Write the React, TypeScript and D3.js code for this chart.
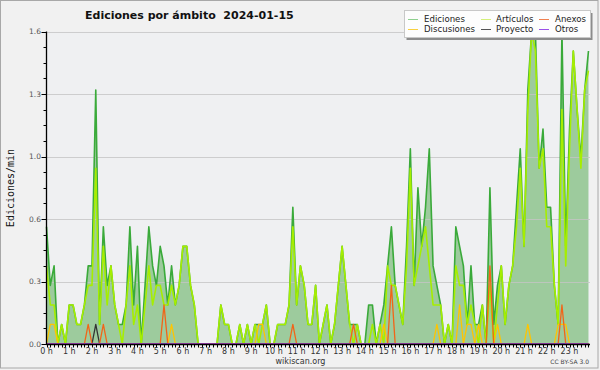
import React, { useRef, useEffect } from 'react';
import * as d3 from 'd3';

// edits per minute, one value per 10-minute slot (0 h .. 23:50), 24 values per row = 4 hours
const ediciones = [
  0.6, 0.3, 0.4, 0, 0.1, 0, 0.2, 0.2, 0.1, 0.1, 0.2, 0.4, 0.4, 1.3, 0.1, 0.6, 0.3, 0.4, 0.2, 0.1, 0.1, 0.2, 0.6, 0.2,
  0.5, 0, 0.3, 0.6, 0.4, 0.3, 0.5, 0.4, 0.2, 0.4, 0.2, 0.3, 0.5, 0.5, 0.3, 0.2, 0, 0, 0, 0, 0, 0, 0.2, 0.1,
  0.1, 0, 0, 0.1, 0, 0.1, 0, 0.1, 0.1, 0.1, 0.2, 0, 0, 0.1, 0.1, 0.1, 0.2, 0.7, 0.2, 0.4, 0.3, 0.1, 0.1, 0.3,
  0, 0.1, 0.2, 0, 0.1, 0.3, 0.5, 0.3, 0.1, 0.1, 0.1, 0, 0, 0.2, 0.2, 0, 0.1, 0.2, 0.4, 0.6, 0.3, 0.2, 0.1, 0.5,
  1.0, 0.3, 0.8, 0.5, 0.7, 1.0, 0.4, 0.3, 0.2, 0, 0.1, 0, 0.6, 0.5, 0.4, 0.1, 0.4, 0.1, 0.1, 0.2, 0, 0.8, 0.1, 0.3,
  0.4, 0.1, 0.3, 0.4, 0.7, 1.0, 0.5, 1.3, 1.6, 1.6, 0.9, 1.1, 0.7, 0.7, 0.3, 0.1, 1.6, 0.5, 1.1, 1.5, 1.2, 0.95, 1.3, 1.5,
];

const articulos = [
  0.4, 0.2, 0.2, 0, 0.1, 0, 0.2, 0.2, 0.1, 0.1, 0.2, 0.3, 0.3, 0.9, 0.1, 0.5, 0.2, 0.4, 0.2, 0.1, 0, 0.2, 0.4, 0.1,
  0.2, 0, 0.2, 0.4, 0.2, 0.3, 0.3, 0.2, 0.2, 0.3, 0.2, 0.3, 0.5, 0.5, 0.3, 0.2, 0, 0, 0, 0, 0, 0, 0.2, 0.1,
  0.1, 0, 0, 0.1, 0, 0.1, 0, 0.1, 0, 0.1, 0.2, 0, 0, 0.1, 0.1, 0.1, 0.2, 0.6, 0.2, 0.4, 0.3, 0.1, 0.1, 0.3,
  0, 0.1, 0.2, 0, 0.1, 0.3, 0.5, 0.3, 0.1, 0, 0.1, 0, 0, 0, 0.1, 0, 0.1, 0, 0.4, 0.3, 0.3, 0.2, 0.1, 0.4,
  0.9, 0.3, 0.4, 0.5, 0.6, 0.4, 0.2, 0.2, 0.2, 0, 0.1, 0, 0.4, 0.3, 0.3, 0.1, 0.2, 0.1, 0, 0.2, 0, 0.3, 0, 0.2,
  0.4, 0.1, 0.3, 0.4, 0.6, 0.9, 0.5, 1.2, 1.6, 1.5, 0.9, 1.0, 0.6, 0.6, 0.3, 0.1, 1.2, 0.4, 1.0, 1.5, 1.2, 0.9, 1.3, 1.4,
];

const discusiones = [
  0, 0.1, 0.1, 0, 0, 0, 0, 0, 0, 0, 0, 0, 0, 0, 0, 0, 0, 0, 0, 0, 0, 0, 0, 0,
  0, 0, 0, 0, 0, 0, 0, 0, 0, 0.1, 0, 0, 0, 0, 0, 0, 0, 0, 0, 0, 0, 0, 0, 0,
  0, 0, 0, 0, 0, 0, 0, 0, 0.1, 0.1, 0, 0, 0, 0, 0, 0, 0, 0, 0, 0, 0, 0, 0, 0,
  0, 0, 0, 0, 0, 0, 0, 0, 0, 0, 0, 0, 0, 0, 0, 0, 0, 0.1, 0, 0, 0, 0, 0, 0,
  0, 0, 0, 0, 0, 0, 0, 0.1, 0, 0, 0, 0, 0, 0.2, 0, 0.1, 0.1, 0, 0.1, 0, 0, 0, 0, 0.1,
  0, 0, 0, 0, 0, 0, 0, 0.1, 0, 0, 0, 0, 0, 0, 0, 0.1, 0.1, 0.1, 0, 0, 0, 0, 0, 0,
];

const anexos = [
  0, 0, 0, 0, 0, 0, 0, 0, 0, 0, 0, 0.1, 0, 0, 0, 0.1, 0, 0, 0, 0, 0, 0, 0, 0,
  0, 0, 0, 0, 0, 0, 0, 0.2, 0, 0, 0, 0, 0, 0, 0, 0, 0, 0, 0, 0, 0, 0, 0, 0,
  0, 0, 0, 0, 0, 0, 0, 0, 0, 0, 0, 0, 0, 0, 0, 0, 0, 0.1, 0, 0, 0, 0, 0, 0,
  0, 0, 0, 0, 0, 0, 0, 0, 0, 0.1, 0, 0, 0, 0, 0, 0, 0, 0, 0, 0.3, 0, 0, 0, 0,
  0, 0, 0, 0, 0, 0, 0, 0, 0, 0, 0, 0, 0, 0, 0, 0, 0, 0, 0, 0, 0, 0.4, 0, 0,
  0, 0, 0, 0, 0, 0, 0, 0, 0, 0, 0, 0, 0, 0, 0, 0, 0.2, 0, 0, 0, 0, 0, 0, 0,
];

const proyecto = [
  0, 0, 0, 0, 0, 0, 0, 0, 0, 0, 0, 0, 0, 0.1, 0, 0, 0, 0, 0, 0, 0, 0, 0, 0,
  0, 0, 0, 0, 0, 0, 0, 0, 0, 0, 0, 0, 0, 0, 0, 0, 0, 0, 0, 0, 0, 0, 0, 0,
  0, 0, 0, 0, 0, 0, 0, 0, 0, 0, 0, 0, 0, 0, 0, 0, 0, 0, 0, 0, 0, 0, 0, 0,
  0, 0, 0, 0, 0, 0, 0, 0, 0, 0, 0, 0, 0, 0, 0, 0, 0, 0, 0, 0, 0, 0, 0, 0,
  0, 0, 0, 0, 0, 0, 0, 0, 0, 0, 0, 0, 0, 0, 0, 0, 0, 0, 0, 0, 0, 0, 0, 0,
  0, 0, 0, 0, 0, 0, 0, 0, 0, 0, 0, 0, 0, 0, 0, 0, 0, 0, 0, 0, 0, 0, 0, 0,
];

const otros = [
  0, 0, 0, 0, 0, 0, 0, 0, 0, 0, 0, 0, 0, 0, 0, 0, 0, 0, 0, 0, 0, 0, 0, 0,
  0, 0, 0, 0, 0, 0, 0, 0, 0, 0, 0, 0, 0, 0, 0, 0, 0, 0, 0, 0, 0, 0, 0, 0,
  0, 0, 0, 0, 0, 0, 0, 0, 0, 0, 0, 0, 0, 0, 0, 0, 0, 0, 0, 0, 0, 0, 0, 0,
  0, 0, 0, 0, 0, 0, 0, 0, 0, 0, 0, 0, 0, 0, 0, 0, 0, 0, 0, 0, 0, 0, 0, 0,
  0, 0, 0, 0, 0, 0, 0, 0, 0, 0, 0, 0, 0, 0, 0, 0, 0, 0, 0, 0, 0, 0, 0, 0,
  0, 0, 0, 0, 0, 0, 0, 0, 0, 0, 0, 0, 0, 0, 0, 0, 0, 0, 0, 0, 0, 0, 0, 0,
];

const yTickValues = [0, 0.32, 0.64, 0.96, 1.28, 1.6];
const yTickLabels = ['0.0', '0.3', '0.6', '1.0', '1.3', '1.6'];
const hourLabels = d3.range(24).map(h => `${h} h`);

const series = [
  { name: 'Ediciones', values: ediciones, color: '#3aaa3a', swatch: '#8fd08f' },
  { name: 'Artículos', values: articulos, color: '#a6ee00', swatch: '#d4f07a' },
  { name: 'Anexos', values: anexos, color: '#f26418', swatch: '#f08050' },
  { name: 'Discusiones', values: discusiones, color: '#ffc400', swatch: '#f8d040' },
  { name: 'Proyecto', values: proyecto, color: '#333333', swatch: '#555555' },
  { name: 'Otros', values: otros, color: '#9a3cf0', swatch: '#9a50e8' },
];

const App = () => {
  const svgRef = useRef(null);

  useEffect(() => {
    document.body.style.margin = '0';
    const svg = d3.select(svgRef.current);
    svg.selectAll('*').remove();

    const width = 600;
    const height = 370;
    const plot = { left: 46.5, right: 590, top: 31.5, bottom: 344 };
    const font = 'DejaVu Sans, sans-serif';

    const x = d3.scaleLinear().domain([0, 24]).range([plot.left, plot.left + 24 * 22.74]);
    const y = d3.scaleLinear().domain([0, 1.6]).range([plot.bottom, plot.top]);
    const slotX = (d, i) => x(i / 6);

    // backgrounds
    svg.append('rect').attr('width', width).attr('height', height).attr('fill', '#f1f1f1');
    svg.append('rect')
      .attr('x', 0.5).attr('y', 0.5).attr('width', 597.5).attr('height', 367.5)
      .attr('fill', 'none').attr('stroke', '#a8a8a8');
    svg.append('rect')
      .attr('x', plot.left).attr('y', plot.top)
      .attr('width', plot.right - plot.left).attr('height', plot.bottom - plot.top)
      .attr('fill', '#eff0f2');

    // filled total
    const area = d3.area()
      .x(slotX)
      .y0(y(0))
      .y1(d => y(d));
    svg.append('path')
      .datum(ediciones)
      .attr('d', area)
      .attr('fill', '#9dcb9d');

    // horizontal grid
    svg.append('g')
      .selectAll('line')
      .data(yTickValues.slice(1))
      .enter()
      .append('line')
      .attr('x1', plot.left).attr('x2', plot.right)
      .attr('y1', d => Math.round(y(d)) + 0.5).attr('y2', d => Math.round(y(d)) + 0.5)
      .attr('stroke', '#c4c4c4')
      .attr('stroke-opacity', 0.8);

    // lines (drawn bottom series last so small ones stay visible)
    const line = d3.line().x(slotX).y(d => y(d));
    const order = ['Ediciones', 'Artículos', 'Discusiones', 'Proyecto', 'Anexos', 'Otros'];
    order.forEach(name => {
      const s = series.find(d => d.name === name);
      svg.append('path')
        .datum(s.values)
        .attr('d', line)
        .attr('fill', 'none')
        .attr('stroke', s.color)
        .attr('stroke-width', name === 'Ediciones' || name === 'Artículos' ? 1.6 : 1.3)
        .attr('stroke-linejoin', 'round');
    });

    // axes
    const axis = svg.append('g').attr('stroke', '#000');
    axis.append('line')
      .attr('x1', plot.left).attr('x2', plot.left)
      .attr('y1', plot.top).attr('y2', plot.bottom + 1)
      .attr('stroke-width', 1.3);
    axis.append('line')
      .attr('x1', plot.left).attr('x2', plot.right)
      .attr('y1', plot.bottom + 0.5).attr('y2', plot.bottom + 0.5)
      .attr('stroke-width', 1.3);

    // x ticks: every 10 minutes
    axis.append('g')
      .selectAll('line')
      .data(d3.range(0, 24 * 6).map(i => i / 6).filter(h => x(h) <= plot.right))
      .enter()
      .append('line')
      .attr('x1', d => Math.round(x(d)) + 0.5).attr('x2', d => Math.round(x(d)) + 0.5)
      .attr('y1', plot.bottom).attr('y2', plot.bottom + 3.5)
      .attr('stroke-width', 1);

    // y ticks
    axis.append('g')
      .selectAll('line')
      .data(d3.range(0, 21).map(i => i * 0.08))
      .enter()
      .append('line')
      .attr('x1', (d, i) => plot.left - (i % 4 === 0 ? 5 : 3)).attr('x2', plot.left)
      .attr('y1', d => Math.round(y(d)) + 0.5).attr('y2', d => Math.round(y(d)) + 0.5)
      .attr('stroke-width', 1);

    svg.append('g')
      .selectAll('text')
      .data(yTickValues)
      .enter()
      .append('text')
      .attr('x', 41)
      .attr('y', d => y(d) + 2.5)
      .attr('text-anchor', 'end')
      .attr('font-family', font)
      .attr('font-size', 7.5)
      .attr('fill', '#555')
      .text((d, i) => yTickLabels[i]);

    svg.append('g')
      .selectAll('text')
      .data(hourLabels)
      .enter()
      .append('text')
      .attr('x', (d, i) => x(i))
      .attr('y', 354)
      .attr('text-anchor', 'middle')
      .attr('font-family', font)
      .attr('font-size', 8)
      .attr('fill', '#333')
      .text(d => d);

    svg.append('text')
      .attr('transform', 'translate(14,188) rotate(-90)')
      .attr('text-anchor', 'middle')
      .attr('font-family', 'DejaVu Sans Mono, monospace')
      .attr('font-size', 10)
      .attr('fill', '#111')
      .text('Ediciones/min');

    // title
    svg.append('text')
      .attr('x', 85)
      .attr('y', 18.5)
      .attr('font-family', font)
      .attr('font-size', 11)
      .attr('font-weight', 'bold')
      .attr('fill', '#111')
      .style('white-space', 'pre')
      .text('Ediciones por ámbito  2024-01-15');

    // footer
    svg.append('text')
      .attr('x', 300.5).attr('y', 364)
      .attr('text-anchor', 'middle')
      .attr('font-family', font).attr('font-size', 8)
      .attr('fill', '#333')
      .text('wikiscan.org');
    svg.append('text')
      .attr('x', 589).attr('y', 364)
      .attr('text-anchor', 'end')
      .attr('font-family', font).attr('font-size', 6)
      .attr('fill', '#444')
      .text('CC BY-SA 3.0');

    // legend
    const legend = svg.append('g').attr('class', 'legend');
    legend.append('rect')
      .attr('x', 406.5).attr('y', 13).attr('width', 186).attr('height', 27)
      .attr('fill', '#8c8c8c');
    legend.append('rect')
      .attr('x', 404.5).attr('y', 10.5).attr('width', 186).attr('height', 27)
      .attr('fill', '#fdfdfd').attr('stroke', '#c8c8c8');

    const cols = [408, 481, 539];
    const legendItems = legend.selectAll('g.item')
      .data(series)
      .enter()
      .append('g')
      .attr('class', 'item')
      .attr('transform', (d, i) => `translate(${cols[i % 3]},${i < 3 ? 19 : 29})`);
    legendItems.append('line')
      .attr('x1', 0).attr('x2', 10)
      .attr('y1', 0.5).attr('y2', 0.5)
      .attr('stroke', d => d.swatch);
    legendItems.append('text')
      .attr('x', (d, i) => (i % 3 === 1 ? 15 : 16))
      .attr('y', 3)
      .attr('font-family', font)
      .attr('font-size', 8.6)
      .attr('fill', '#222')
      .text(d => d.name);
  }, []);

  return (
    <svg ref={svgRef} width={600} height={370} style={{ display: 'block' }} />
  );
};

export default App;
